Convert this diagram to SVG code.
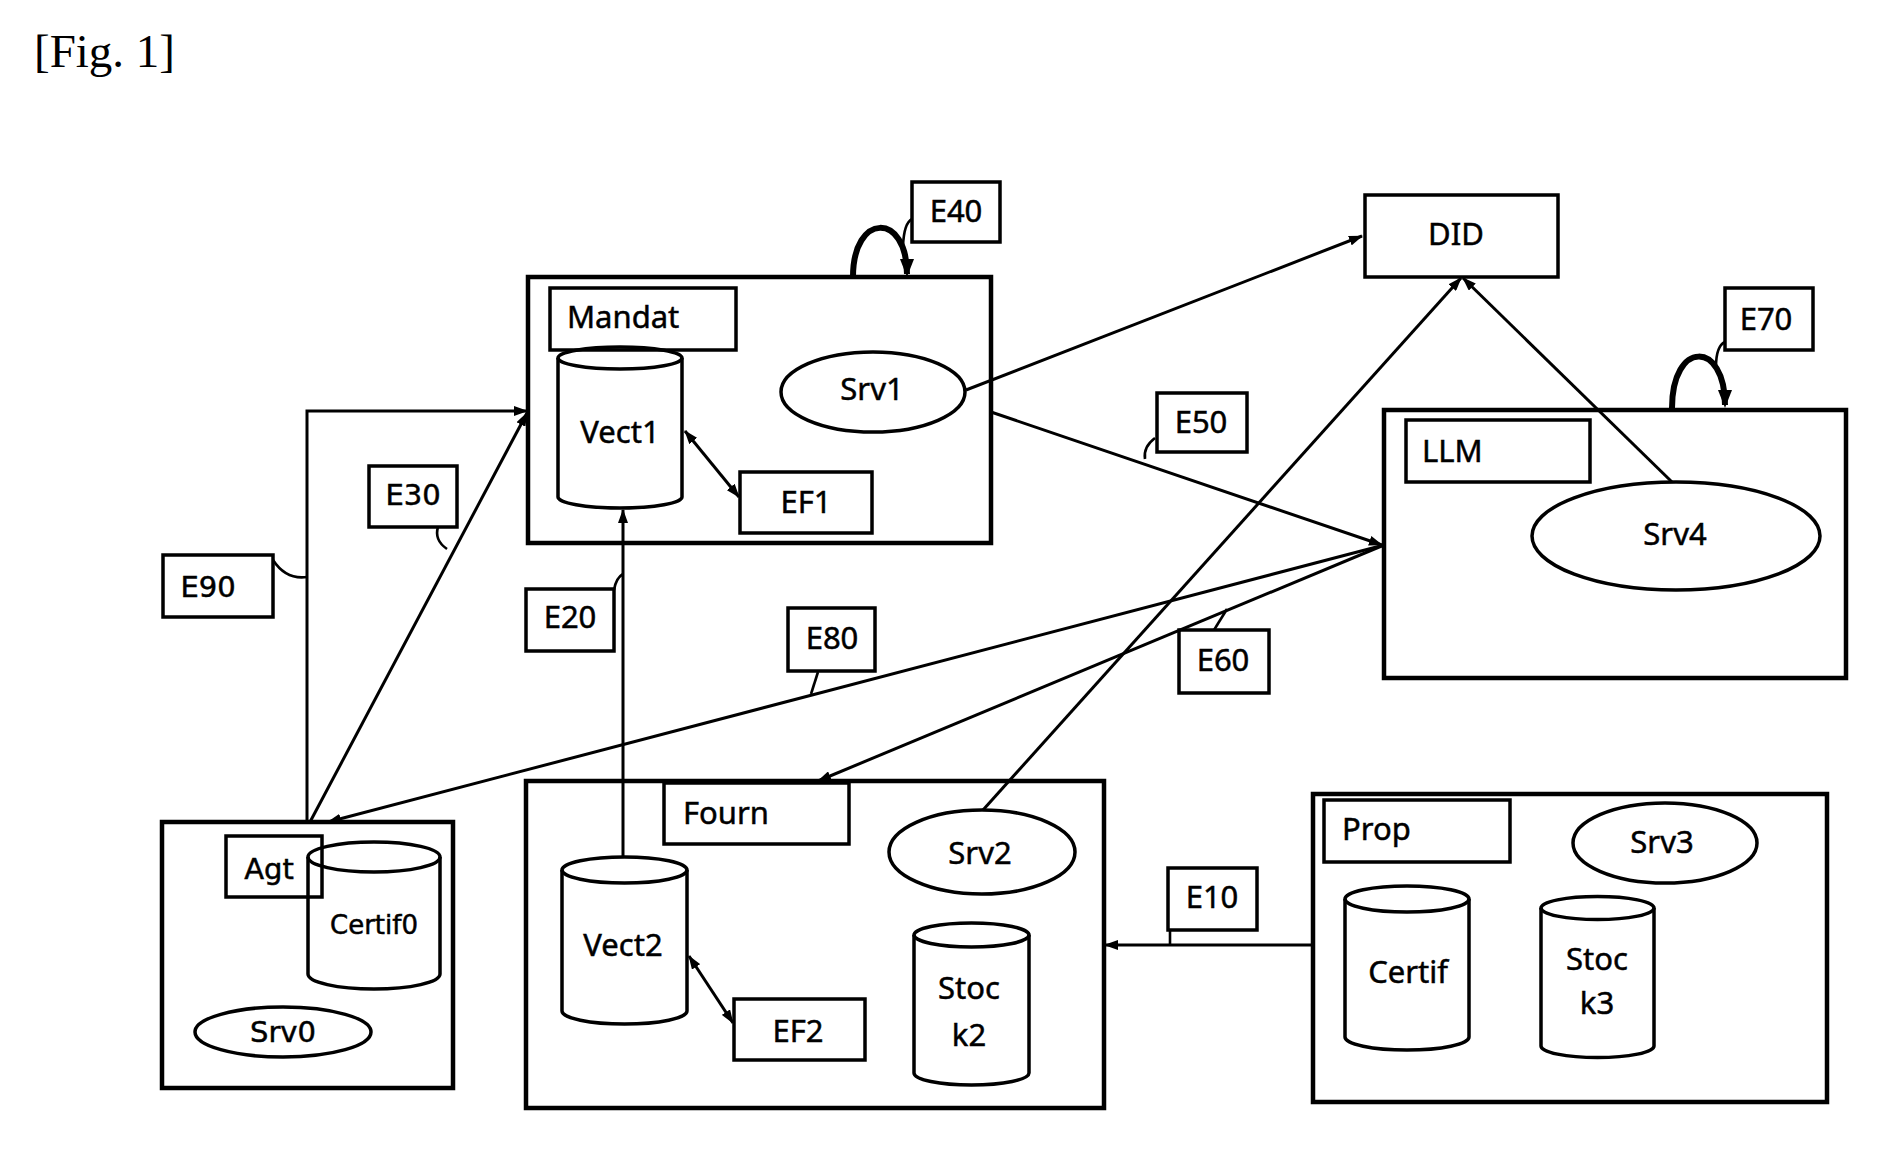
<svg xmlns="http://www.w3.org/2000/svg" width="1902" height="1161" viewBox="0 0 1902 1161">
<style>
.bg{fill:#fff}
.outer{fill:none;stroke:#000;stroke-width:4.5}
.box{fill:none;stroke:#000;stroke-width:3.5}
.shape{fill:none;stroke:#000;stroke-width:3.5}
.con{fill:none;stroke:#000;stroke-width:3}
.loop{fill:none;stroke:#000;stroke-width:6}
.lead{fill:none;stroke:#000;stroke-width:2.6}
.t{font-family:"Noto Sans","Liberation Sans",sans-serif;font-size:31px;fill:#000;stroke:#000;stroke-width:0.5}
.d{font-family:"DejaVu Sans","Liberation Sans",sans-serif;font-size:29px;fill:#000;stroke:#000;stroke-width:0.5}
.m{text-anchor:middle}
.cap{font-family:"Liberation Serif","Times New Roman",serif;font-size:47px;fill:#000}
</style>
<defs>
<marker id="ah" markerWidth="14" markerHeight="10" refX="13" refY="5" orient="auto-start-reverse" markerUnits="userSpaceOnUse">
<path d="M0,0 L14,5 L0,10 z" fill="#000"/>
</marker>
<marker id="ahb" markerWidth="18" markerHeight="14" refX="15" refY="7" orient="auto" markerUnits="userSpaceOnUse">
<path d="M0,0 L18,7 L0,14 z" fill="#000"/>
</marker>
</defs>
<rect class="bg" x="0" y="0" width="1902" height="1161"/>
<text class="cap" x="34" y="67">[Fig. 1]</text>

<g id="connectors">
<line class="con" x1="966" y1="390" x2="1362" y2="236" marker-end="url(#ah)"/>
<line class="con" x1="991" y1="412" x2="1382" y2="545" marker-end="url(#ah)"/>
<line class="con" x1="1384" y1="545" x2="818" y2="781" marker-end="url(#ah)"/>
<line class="con" x1="1384" y1="545" x2="328" y2="822" marker-end="url(#ah)"/>
<line class="con" x1="983" y1="810" x2="1461" y2="278" marker-end="url(#ah)"/>
<line class="con" x1="1672" y1="482" x2="1463" y2="278" marker-end="url(#ah)"/>
<line class="con" x1="310" y1="822" x2="527" y2="413" marker-end="url(#ah)"/>
<polyline class="con" points="307,822 307,411 527,411" marker-end="url(#ah)"/>
<line class="con" x1="623" y1="856" x2="623" y2="510" marker-end="url(#ah)"/>
<line class="con" x1="1313" y1="945" x2="1105" y2="945" marker-end="url(#ah)"/>
<line class="con" x1="685" y1="431" x2="739" y2="497" marker-start="url(#ah)" marker-end="url(#ah)"/>
<line class="con" x1="689" y1="956" x2="733" y2="1023" marker-start="url(#ah)" marker-end="url(#ah)"/>
<path class="loop" d="M853,277 C853,212 907,212 907,274" marker-end="url(#ahb)"/>
<path class="loop" d="M1672,408 C1672,340 1725,340 1725,405" marker-end="url(#ahb)"/>
<path class="lead" d="M903,246 Q904,223 912,219"/>
<path class="lead" d="M1716,367 Q1716,346 1725,342"/>
<path class="lead" d="M1155,438 Q1143,447 1145,459"/>
<path class="lead" d="M273,560 Q286,580 307,577"/>
<path class="lead" d="M438,527 Q434,540 447,549"/>
<path class="lead" d="M614,590 Q616,578 623,574"/>
<path class="lead" d="M818,672 L811,694"/>
<path class="lead" d="M1214,630 L1227,609"/>
<path class="lead" d="M1170,930 L1170,945"/>
</g>

<g id="mandat">
<rect class="outer" x="528" y="277" width="463" height="266"/>
<rect class="box" x="550" y="288" width="186" height="62"/>
<text class="t" x="567" y="328">Mandat</text>
</g>
<g id="vect1">
<ellipse class="shape" cx="620" cy="358" rx="62" ry="11"/>
<path class="shape" d="M558,358 L558,497 A62,11 0 0 0 682,497 L682,358"/>
<text class="t m" x="620" y="443">Vect1</text>
</g>
<g id="srv1">
<ellipse class="shape" cx="873" cy="392" rx="92" ry="40"/>
<text class="t m" x="872" y="400">Srv1</text>
</g>
<g id="ef1">
<rect class="box" x="740" y="472" width="132" height="61"/>
<text class="t m" x="806" y="513">EF1</text>
</g>
<g id="e40">
<rect class="box" x="912" y="182" width="88" height="60"/>
<text class="t m" x="956" y="222">E40</text>
</g>
<g id="did">
<rect class="box" x="1365" y="195" width="193" height="82"/>
<text class="t m" x="1456" y="245">DID</text>
</g>
<g id="e70">
<rect class="box" x="1725" y="288" width="88" height="62"/>
<text class="t m" x="1766" y="330">E70</text>
</g>
<g id="llm">
<rect class="outer" x="1384" y="410" width="462" height="268"/>
<rect class="box" x="1406" y="420" width="184" height="62"/>
<text class="t" x="1422" y="462">LLM</text>
</g>
<g id="srv4">
<ellipse class="shape" cx="1676" cy="536" rx="144" ry="54"/>
<text class="t m" x="1675" y="545">Srv4</text>
</g>
<g id="e50">
<rect class="box" x="1157" y="393" width="90" height="59"/>
<text class="t m" x="1201" y="433">E50</text>
</g>
<g id="e60">
<rect class="box" x="1179" y="630" width="90" height="63"/>
<text class="t m" x="1223" y="671">E60</text>
</g>
<g id="e80">
<rect class="box" x="788" y="608" width="87" height="63"/>
<text class="t m" x="832" y="649">E80</text>
</g>
<g id="e20">
<rect class="box" x="526" y="589" width="88" height="62"/>
<text class="t m" x="570" y="628">E20</text>
</g>
<g id="e30">
<rect class="box" x="369" y="466" width="88" height="61"/>
<text class="d m" x="413" y="505">E30</text>
</g>
<g id="e90">
<rect class="box" x="163" y="555" width="110" height="62"/>
<text class="d m" x="208" y="597">E90</text>
</g>
<g id="agt">
<rect class="outer" x="162" y="822" width="291" height="266"/>
<rect class="box" x="226" y="836" width="96" height="61"/>
<text class="d m" x="269" y="879">Agt</text>
</g>
<g id="certif0">
<ellipse class="shape" cx="374" cy="857" rx="66" ry="15"/>
<path class="shape" d="M308,857 L308,974 A66,15 0 0 0 440,974 L440,857"/>
<text class="d m" x="374" y="934" style="font-size:26px">Certif0</text>
</g>
<g id="srv0">
<ellipse class="shape" cx="283" cy="1032" rx="88" ry="25"/>
<text class="d m" x="283" y="1042">Srv0</text>
</g>
<g id="fourn">
<rect class="outer" x="526" y="781" width="578" height="327"/>
<rect class="box" x="664" y="783" width="185" height="61"/>
<text class="t" x="683" y="824">Fourn</text>
</g>
<g id="srv2">
<ellipse class="shape" cx="982" cy="852" rx="93" ry="42"/>
<text class="t m" x="980" y="864">Srv2</text>
</g>
<g id="vect2">
<ellipse class="shape" cx="624.5" cy="870" rx="62.5" ry="13"/>
<path class="shape" d="M562,870 L562,1011 A62.5,13 0 0 0 687,1011 L687,870"/>
<text class="t m" x="623" y="956">Vect2</text>
</g>
<g id="ef2">
<rect class="box" x="734" y="999" width="131" height="61"/>
<text class="t m" x="798" y="1042">EF2</text>
</g>
<g id="stock2">
<ellipse class="shape" cx="971.5" cy="935" rx="57.5" ry="12"/>
<path class="shape" d="M914,935 L914,1073 A57.5,12 0 0 0 1029,1073 L1029,935"/>
<text class="t m" x="969" y="999">Stoc</text>
<text class="t m" x="969" y="1046">k2</text>
</g>
<g id="e10">
<rect class="box" x="1168" y="868" width="89" height="62"/>
<text class="t m" x="1212" y="908">E10</text>
</g>
<g id="prop">
<rect class="outer" x="1313" y="794" width="514" height="308"/>
<rect class="box" x="1324" y="800" width="186" height="62"/>
<text class="t" x="1342" y="840">Prop</text>
</g>
<g id="srv3">
<ellipse class="shape" cx="1665" cy="843" rx="92" ry="40"/>
<text class="t m" x="1662" y="853">Srv3</text>
</g>
<g id="certif">
<ellipse class="shape" cx="1407" cy="899" rx="62" ry="13"/>
<path class="shape" d="M1345,899 L1345,1037 A62,13 0 0 0 1469,1037 L1469,899"/>
<text class="t m" x="1408" y="983">Certif</text>
</g>
<g id="stock3">
<ellipse class="shape" cx="1597.5" cy="908" rx="56.5" ry="11.5"/>
<path class="shape" d="M1541,908 L1541,1046 A56.5,11.5 0 0 0 1654,1046 L1654,908"/>
<text class="t m" x="1597" y="970">Stoc</text>
<text class="t m" x="1597" y="1014">k3</text>
</g>
</svg>
